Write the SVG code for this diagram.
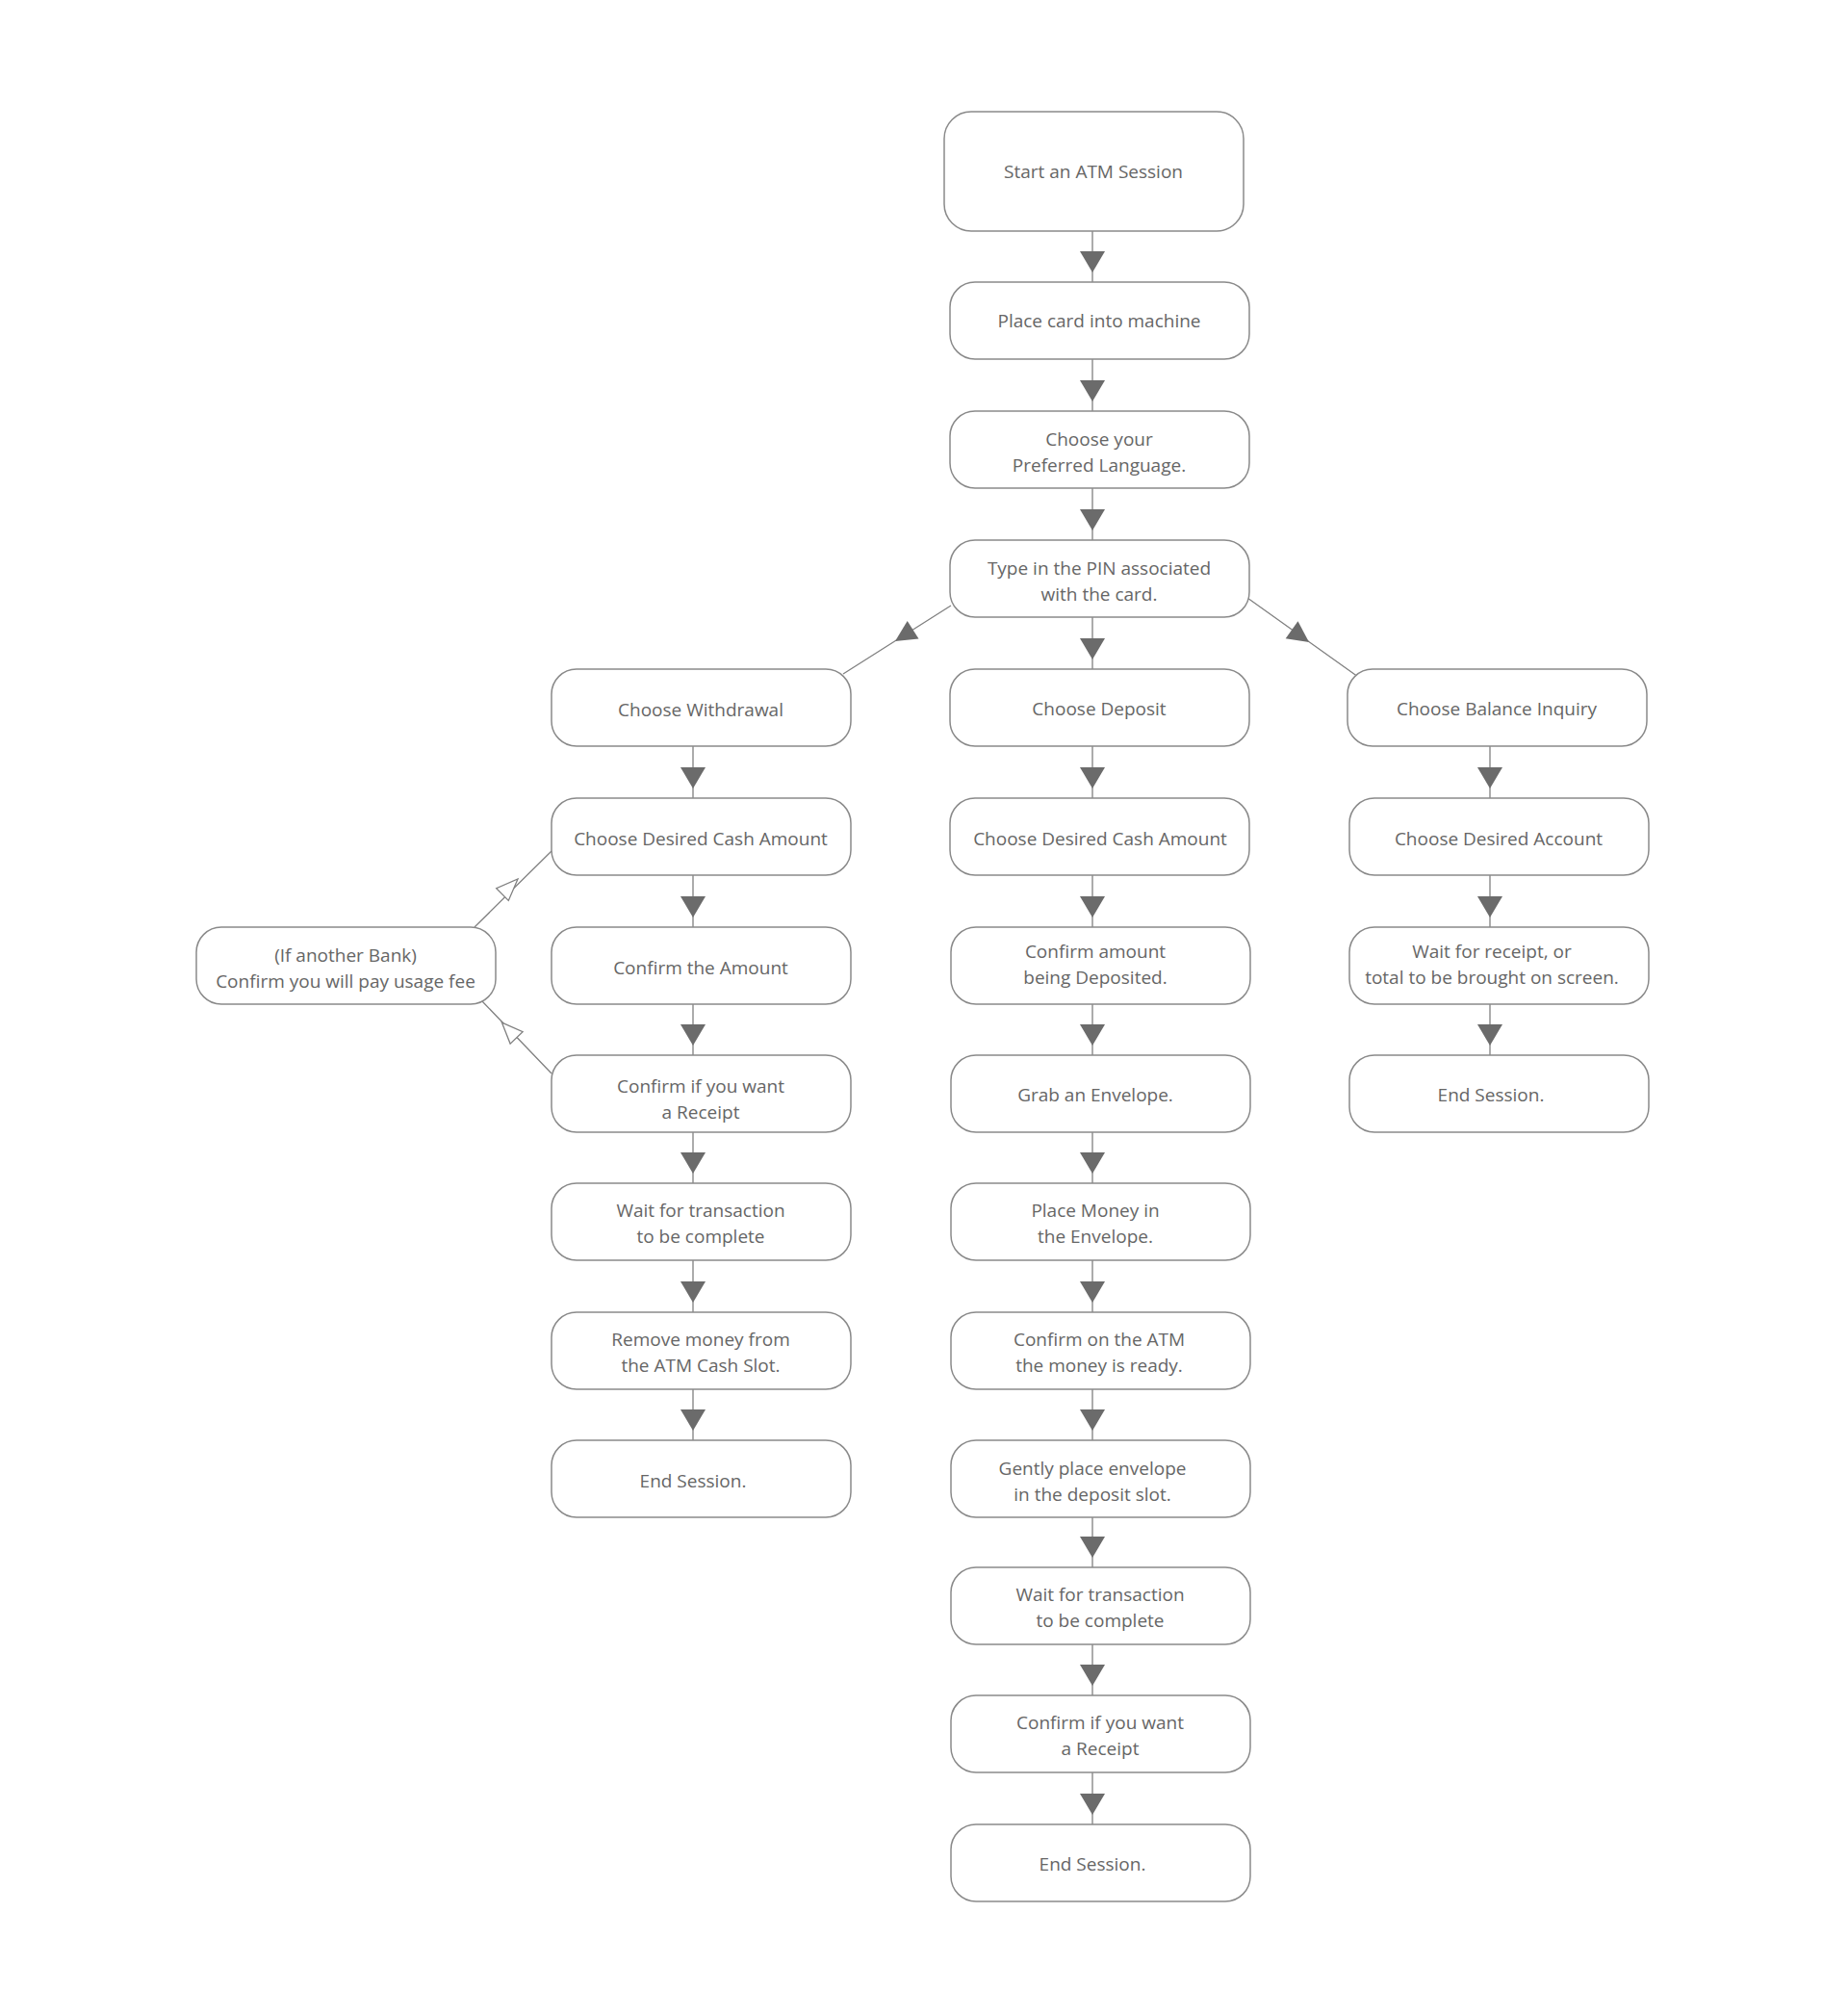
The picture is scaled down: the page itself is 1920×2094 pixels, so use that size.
<svg xmlns="http://www.w3.org/2000/svg" width="1920" height="2094" viewBox="0 0 1920 2094">
<style>
.n rect{fill:#fff;stroke:#8a8a8a;stroke-width:1.5}
.n text{font-family:"Open Sans","Noto Sans",sans-serif;font-size:19px;fill:#666;text-anchor:middle}
#edges path{stroke:#808080;stroke-width:1.3;fill:none}
#edges .f{fill:#6b6b6b;stroke:none}
#edges .h{fill:#fff;stroke:#808080;stroke-width:1.3}
</style>
<rect width="1920" height="2094" fill="#fff"/>
<g id="edges">
<path d="M1135 240V293M1135 373V427M1135 507V561M1135 641V695M1135 775V829M1135 909V963M1135 1043V1096M1135 1176V1229M1135 1309V1363M1135 1443V1496M1135 1576V1628M1135 1708V1761M1135 1841V1895"/>
<path d="M720 775V829M720 909V963M720 1043V1096M720 1176V1229M720 1309V1363M720 1443V1496"/>
<path d="M1548 775V829M1548 909V963M1548 1043V1096"/>
<path d="M988 629L876 700M1296 621L1411 703M573 884L493 963M501 1040L573 1115"/>
<g class="f">
<polygon points="1122,261 1148,261 1135,283"/><polygon points="1122,395 1148,395 1135,417"/><polygon points="1122,529 1148,529 1135,551"/><polygon points="1122,663 1148,663 1135,685"/><polygon points="1122,797 1148,797 1135,819"/><polygon points="1122,931 1148,931 1135,953"/><polygon points="1122,1064 1148,1064 1135,1086"/><polygon points="1122,1197 1148,1197 1135,1219"/><polygon points="1122,1331 1148,1331 1135,1353"/><polygon points="1122,1464 1148,1464 1135,1486"/><polygon points="1122,1596 1148,1596 1135,1618"/><polygon points="1122,1729 1148,1729 1135,1751"/><polygon points="1122,1863 1148,1863 1135,1885"/>
<polygon points="707,797 733,797 720,819"/><polygon points="707,931 733,931 720,953"/><polygon points="707,1064 733,1064 720,1086"/><polygon points="707,1197 733,1197 720,1219"/><polygon points="707,1331 733,1331 720,1353"/><polygon points="707,1464 733,1464 720,1486"/>
<polygon points="1535,797 1561,797 1548,819"/><polygon points="1535,931 1561,931 1548,953"/><polygon points="1535,1064 1561,1064 1548,1086"/>
<polygon points="930,666 954.5,663.5 942.7,644.9"/><polygon points="1360,667 1335.7,663.2 1348.5,645.2"/>
</g>
<polygon class="h" points="538,913 528.3,935.4 515.7,922.6"/>
<polygon class="h" points="521.4,1062.1 543.1,1071.7 530.1,1084.1"/>
</g>
<g id="start" class="n"><rect x="981" y="116" width="311" height="124" rx="28"/><text x="1136" y="185">Start an ATM Session</text></g>
<g id="card" class="n"><rect x="987" y="293" width="311" height="80" rx="26"/><text x="1142" y="340">Place card into machine</text></g>
<g id="lang" class="n"><rect x="987" y="427" width="311" height="80" rx="26"/><text x="1142" y="463">Choose your</text><text x="1142" y="490">Preferred Language.</text></g>
<g id="pin" class="n"><rect x="987" y="561" width="311" height="80" rx="26"/><text x="1142" y="597">Type in the PIN associated</text><text x="1142" y="624">with the card.</text></g>
<g id="wd" class="n"><rect x="573" y="695" width="311" height="80" rx="26"/><text x="728" y="744">Choose Withdrawal</text></g>
<g id="dep" class="n"><rect x="987" y="695" width="311" height="80" rx="26"/><text x="1142" y="743">Choose Deposit</text></g>
<g id="bal" class="n"><rect x="1400" y="695" width="311" height="80" rx="26"/><text x="1555" y="743">Choose Balance Inquiry</text></g>
<g id="wcash" class="n"><rect x="573" y="829" width="311" height="80" rx="26"/><text x="728" y="878">Choose Desired Cash Amount</text></g>
<g id="dcash" class="n"><rect x="987" y="829" width="311" height="80" rx="26"/><text x="1143" y="878">Choose Desired Cash Amount</text></g>
<g id="bacc" class="n"><rect x="1402" y="829" width="311" height="80" rx="26"/><text x="1557" y="878">Choose Desired Account</text></g>
<g id="fee" class="n"><rect x="204" y="963" width="311" height="80" rx="26"/><text x="359" y="999">(If another Bank)</text><text x="359" y="1026">Confirm you will pay usage fee</text></g>
<g id="wconf" class="n"><rect x="573" y="963" width="311" height="80" rx="26"/><text x="728" y="1012">Confirm the Amount</text></g>
<g id="dconf" class="n"><rect x="988" y="963" width="311" height="80" rx="26"/><text x="1138" y="995">Confirm amount</text><text x="1138" y="1022">being Deposited.</text></g>
<g id="bwait" class="n"><rect x="1402" y="963" width="311" height="80" rx="26"/><text x="1550" y="995">Wait for receipt, or</text><text x="1550" y="1022">total to be brought on screen.</text></g>
<g id="wrec" class="n"><rect x="573" y="1096" width="311" height="80" rx="26"/><text x="728" y="1135">Confirm if you want</text><text x="728" y="1162">a Receipt</text></g>
<g id="env" class="n"><rect x="988" y="1096" width="311" height="80" rx="26"/><text x="1138" y="1144">Grab an Envelope.</text></g>
<g id="bend" class="n"><rect x="1402" y="1096" width="311" height="80" rx="26"/><text x="1549" y="1144">End Session.</text></g>
<g id="wwait" class="n"><rect x="573" y="1229" width="311" height="80" rx="26"/><text x="728" y="1264">Wait for transaction</text><text x="728" y="1291">to be complete</text></g>
<g id="place" class="n"><rect x="988" y="1229" width="311" height="80" rx="26"/><text x="1138" y="1264">Place Money in</text><text x="1138" y="1291">the Envelope.</text></g>
<g id="wrem" class="n"><rect x="573" y="1363" width="311" height="80" rx="26"/><text x="728" y="1398">Remove money from</text><text x="728" y="1425">the ATM Cash Slot.</text></g>
<g id="dready" class="n"><rect x="988" y="1363" width="311" height="80" rx="26"/><text x="1142" y="1398">Confirm on the ATM</text><text x="1142" y="1425">the money is ready.</text></g>
<g id="wend" class="n"><rect x="573" y="1496" width="311" height="80" rx="26"/><text x="720" y="1545">End Session.</text></g>
<g id="slot" class="n"><rect x="988" y="1496" width="311" height="80" rx="26"/><text x="1135" y="1532">Gently place envelope</text><text x="1135" y="1559">in the deposit slot.</text></g>
<g id="dwait" class="n"><rect x="988" y="1628" width="311" height="80" rx="26"/><text x="1143" y="1663">Wait for transaction</text><text x="1143" y="1690">to be complete</text></g>
<g id="drec" class="n"><rect x="988" y="1761" width="311" height="80" rx="26"/><text x="1143" y="1796">Confirm if you want</text><text x="1143" y="1823">a Receipt</text></g>
<g id="dend" class="n"><rect x="988" y="1895" width="311" height="80" rx="26"/><text x="1135" y="1943">End Session.</text></g>
</svg>
